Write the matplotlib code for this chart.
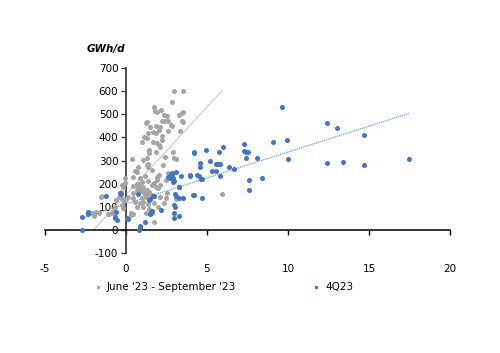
import matplotlib
matplotlib.use("Agg")
import matplotlib.pyplot as plt
import numpy as np

plt.rcParams["axes.unicode_minus"] = False

# June '23 - September '23 (gray)
gray_x = [2.96, 3.5, 2.82, 1.73, 1.81, 1.9, 2.16, 2.35, 2.5, 3.44, 3.5, 3.29, 3.46, 3.52,
          2.22, 2.4, 2.6, 2.76, 2.86, 1.85, 2.1, 1.48, 1.38, 1.65, 2.57, 3.35, 1.21, 1.31,
          1.11, 1.27, 0.99, 1.85, 2.04, 2.24, 1.69, 1.89, 2.22, 2.06, 2.1, 1.44, 1.4, 1.27,
          1.07, 1.85, 2.4, 2.92, 2.96, 3.09, 1.31, 1.38, 1.34, 1.58, 2.3, 1.89, 2.06, 2.57,
          0.39, 0.56, 0.66, 0.76, -0.04, -0.2, -0.04, 0.41, 0.7, 0.82, 0.86, 1.17, 1.38,
          0.97, 1.58, 1.73, 1.89, 2.45, 1.85, 2.0, 2.1, 0.66, 0.82, 0.97, 1.11, 0.86, 1.07,
          1.27, 1.44, 1.21, 1.31, 0.97, 0.41, 0.41, 0.14, 0.0, -0.12, -0.27, -0.33, -0.25,
          -0.41, -0.62, -1.5, -0.68, -0.2, -0.88, -1.09, -1.67, -1.98, 0.31, 0.31, 0.45,
          0.7, 1.03, 1.03, 0.86, 1.38, 1.75, 1.44, 1.58, 1.23, 1.73, 2.0, 2.35, 2.1, 2.51,
          2.45, 3.07, 0.66, 0.41, 5.95, -2.08, -1.87, -1.56, -1.05, -0.72, -0.27, 0.55, 1.6]
gray_y = [602, 602, 552, 530, 514, 509, 521, 497, 493, 504, 510, 496, 472, 467,
          472, 472, 472, 455, 448, 449, 447, 447, 421, 425, 428, 426, 461, 467,
          401, 396, 382, 421, 432, 406, 382, 377, 389, 367, 357, 346, 331, 310,
          302, 336, 314, 338, 310, 305, 281, 285, 274, 259, 281, 230, 236, 245,
          308, 256, 251, 271, 223, 184, 202, 228, 199, 199, 226, 233, 213,
          209, 194, 202, 216, 216, 187, 180, 194, 173, 173, 170, 161, 187, 184,
          173, 166, 144, 151, 137, 158, 137, 144, 133, 127, 134, 166, 194,
          144, 130, 147, 101, 94, 72, 69, 72, 62, 75, 65, 69,
          101, 101, 122, 115, 112, 118, 89, 72, 72, 36, 98, 115, 144, 158,
          137, 134, 190, 190, 157, 72, 77, 144, 71, 79, 108, 120, 150]

# 4Q23 (blue)
blue_x = [9.6, 12.4, 13.0, 14.7, 17.45, 12.4, 13.4, 14.7, 9.96, 10.0, 9.05, 7.26, 7.26,
          7.4, 7.5, 7.43, 8.07, 7.6, 7.6, 8.4, 4.96, 5.74, 6.0, 5.2, 5.54, 5.68, 5.82,
          5.33, 5.54, 5.82, 6.38, 6.69, 4.57, 4.57, 4.67, 4.67, 4.2, 4.2, 3.93, 4.38, 4.18,
          2.82, 2.6, 3.4, 2.92, 2.94, 3.25, 3.05, 3.29, 3.52, 1.71, 1.48, 0.72, -0.3,
          1.54, 1.48, 3.05, 2.98, 3.29, 2.96, 1.15, 0.88, 0.82, 0.85, 0.08,
          -2.73, -2.33, -2.33, -1.23, -0.35, -0.64, -0.68, -0.68, -0.54, 0.1,
          1.58, 2.18, 1.65, 1.42, 2.94, 3.1, 3.29, 2.72, 2.86, 2.88, 2.76, 3.1,
          3.95, 4.5, 4.65, 4.16, -2.7]
blue_y = [531, 464, 440, 412, 308, 290, 294, 280, 389, 308, 380, 372, 343,
          337, 336, 313, 313, 217, 174, 226, 344, 336, 360, 300, 287, 287, 287,
          256, 256, 235, 274, 262, 291, 272, 222, 137, 338, 334, 238, 238, 153,
          248, 229, 235, 223, 212, 185, 156, 137, 137, 147, 133, 154, 154,
          79, 68, 98, 72, 59, 53, 33, 19, 0, 10, 50,
          0, 77, 69, 148, 158, 77, 58, 50, 43, 46,
          83, 86, 148, 131, 109, 148, 184, 223, 241, 207, 243, 249,
          235, 235, 222, 151, 58]

# linear trend lines as shown (slope, intercept, x-extent)
gray_trend = (76.0, 152.0, -2.0, 5.95)
blue_trend = (22.4, 113.0, -2.73, 17.45)

GRAY = "#a5a5a5"
BLUE = "#4472c4"

fig = plt.figure(figsize=(5.0, 3.53), dpi=100)
ax = fig.add_axes([0.09, 0.283, 0.81, 0.524])

ax.scatter(gray_x, gray_y, s=13, color=GRAY, zorder=3, linewidths=0,
           label="June '23 - September '23")
ax.scatter(blue_x, blue_y, s=13, color=BLUE, zorder=4, linewidths=0, label="4Q23")

m, b, x0, x1 = gray_trend
xs = np.array([x0, x1])
ax.plot(xs, m * xs + b, color="#c8c8c8", lw=0.8, zorder=2)
m, b, x0, x1 = blue_trend
xs = np.array([x0, x1])
ax.plot(xs, m * xs + b, color="#7f9fe0", lw=0.9, ls=(0, (1, 0.6)), zorder=2)

ax.set_xlim(-5, 20)
ax.set_ylim(-100, 700)
ax.set_xticks([-5, 0, 5, 10, 15, 20])
ax.set_yticks(range(-100, 701, 100))

for s in ["top", "right"]:
    ax.spines[s].set_visible(False)
ax.spines["left"].set_position(("data", 0))
ax.spines["bottom"].set_position(("data", 0))
ax.spines["left"].set_color("#404040")
ax.spines["left"].set_linewidth(1.3)
ax.spines["bottom"].set_color("black")
ax.spines["bottom"].set_linewidth(1.1)

ax.tick_params(axis="y", direction="out", length=3.5, width=1, color="#404040",
               labelsize=7.5, pad=2)
ax.tick_params(axis="x", direction="out", length=3.5, width=1, color="black",
               labelsize=7.5, pad=21)

fig.text(0.212, 0.862, "GWh/d", fontsize=7.5, fontweight="bold", fontstyle="italic",
         ha="center", va="center")

leg = ax.legend(loc="center", bbox_to_anchor=(0.44, -0.184), ncol=2, frameon=False,
                fontsize=7.5, handlelength=1.0, handletextpad=0.4, columnspacing=7.2,
                markerscale=0.7)

fig.savefig("out.png", dpi=100)
